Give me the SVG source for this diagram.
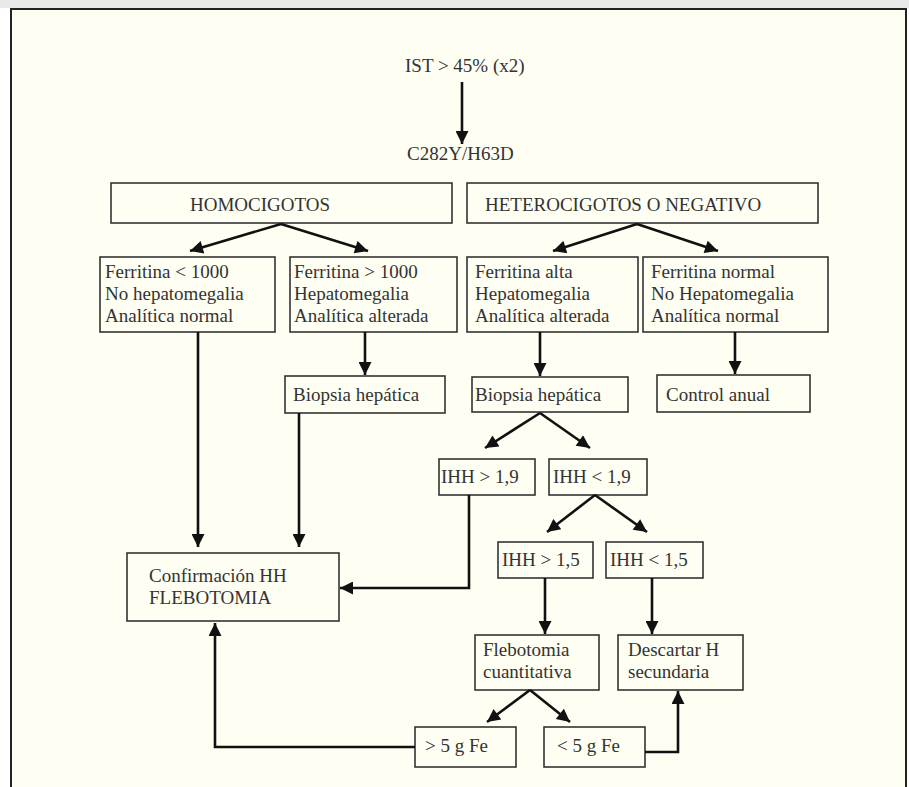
<svg xmlns="http://www.w3.org/2000/svg" width="909" height="787" viewBox="0 0 909 787">
<defs>
<marker id="ah" viewBox="0 0 10 10" refX="10" refY="5" markerUnits="userSpaceOnUse" markerWidth="15" markerHeight="13" orient="auto">
<path d="M0,0 L10,5 L0,10 z" fill="#111"/>
</marker>
</defs>
<style>
.box{fill:none;stroke:#333;stroke-width:1.6}
.t{font-family:"Liberation Serif","Times New Roman",serif;font-size:19px;fill:#333}
.c{fill:none;stroke:#111;stroke-width:2.6;marker-end:url(#ah)}
</style>
<rect x="0" y="0" width="909" height="787" fill="#ffffff"/>
<rect x="0" y="0" width="909" height="8" fill="#e9e9e9"/>
<rect x="11" y="9" width="895" height="800" fill="#fefef2" stroke="#222" stroke-width="2"/>

<g id="ist"><text class="t" x="405" y="72">IST &gt; 45% (x2)</text></g>
<g id="c282y"><text class="t" x="407" y="160">C282Y/H63D</text></g>

<g id="homo"><rect class="box" x="111" y="183" width="341" height="40"/><text class="t" x="190" y="211">HOMOCIGOTOS</text></g>
<g id="hetero"><rect class="box" x="467" y="183" width="351" height="40"/><text class="t" x="485" y="211">HETEROCIGOTOS O NEGATIVO</text></g>

<g id="fer1"><rect class="box" x="100" y="257" width="175" height="75"/>
<text class="t" x="105" y="278">Ferritina &lt; 1000</text>
<text class="t" x="105" y="300">No hepatomegalia</text>
<text class="t" x="105" y="322">Analítica normal</text></g>

<g id="fer2"><rect class="box" x="290" y="257" width="167" height="75"/>
<text class="t" x="294" y="278">Ferritina &gt; 1000</text>
<text class="t" x="294" y="300">Hepatomegalia</text>
<text class="t" x="294" y="322">Analítica alterada</text></g>

<g id="fer3"><rect class="box" x="467" y="257" width="171" height="75"/>
<text class="t" x="475" y="278">Ferritina alta</text>
<text class="t" x="475" y="300">Hepatomegalia</text>
<text class="t" x="475" y="322">Analítica alterada</text></g>

<g id="fer4"><rect class="box" x="643" y="257" width="185" height="75"/>
<text class="t" x="651" y="278">Ferritina normal</text>
<text class="t" x="651" y="300">No Hepatomegalia</text>
<text class="t" x="651" y="322">Analítica normal</text></g>

<g id="bio1"><rect class="box" x="285" y="376" width="160" height="37"/><text class="t" x="293" y="401">Biopsia hepática</text></g>
<g id="bio2"><rect class="box" x="472" y="377" width="156" height="35"/><text class="t" x="475" y="401">Biopsia hepática</text></g>
<g id="control"><rect class="box" x="657" y="375" width="153" height="37"/><text class="t" x="666" y="401">Control anual</text></g>

<g id="ihh19a"><rect class="box" x="439" y="459" width="96" height="36"/><text class="t" x="441" y="483">IHH &gt; 1,9</text></g>
<g id="ihh19b"><rect class="box" x="549" y="459" width="98" height="36"/><text class="t" x="553" y="483">IHH &lt; 1,9</text></g>
<g id="ihh15a"><rect class="box" x="498" y="542" width="95" height="36"/><text class="t" x="502" y="566">IHH &gt; 1,5</text></g>
<g id="ihh15b"><rect class="box" x="606" y="542" width="97" height="36"/><text class="t" x="610" y="566">IHH &lt; 1,5</text></g>

<g id="confirm"><rect class="box" x="127" y="553" width="212" height="68"/>
<text class="t" x="149" y="582">Confirmación HH</text>
<text class="t" x="149" y="604">FLEBOTOMIA</text></g>

<g id="flebo"><rect class="box" x="475" y="635" width="124" height="55"/>
<text class="t" x="483" y="656">Flebotomia</text>
<text class="t" x="483" y="678">cuantitativa</text></g>

<g id="descartar"><rect class="box" x="618" y="635" width="125" height="55"/>
<text class="t" x="628" y="656">Descartar H</text>
<text class="t" x="628" y="678">secundaria</text></g>

<g id="mas5"><rect class="box" x="415" y="727" width="101" height="40"/><text class="t" x="425" y="752">&gt; 5 g Fe</text></g>
<g id="menos5"><rect class="box" x="544" y="727" width="101" height="40"/><text class="t" x="557" y="752">&lt; 5 g Fe</text></g>

<g id="connectors">
<path class="c" d="M462,82 L462,144"/>
<path class="c" d="M281,224 L190,251"/>
<path class="c" d="M281,224 L368,251"/>
<path class="c" d="M637,224 L553,251"/>
<path class="c" d="M637,224 L718,251"/>
<path class="c" d="M198,332 L198,547"/>
<path class="c" d="M365,332 L365,375"/>
<path class="c" d="M299,413 L299,547"/>
<path class="c" d="M540,332 L540,376"/>
<path class="c" d="M735,332 L735,374"/>
<path class="c" d="M540,413 L485,448"/>
<path class="c" d="M540,413 L590,448"/>
<path class="c" d="M469,495 L469,588 L340,588"/>
<path class="c" d="M595,495 L547,532"/>
<path class="c" d="M595,495 L647,532"/>
<path class="c" d="M545,578 L545,634"/>
<path class="c" d="M652,578 L652,634"/>
<path class="c" d="M530,690 L487,722"/>
<path class="c" d="M530,690 L570,722"/>
<path class="c" d="M415,747 L215,747 L215,623"/>
<path class="c" d="M645,752 L678,752 L678,691"/>
</g>
</svg>
